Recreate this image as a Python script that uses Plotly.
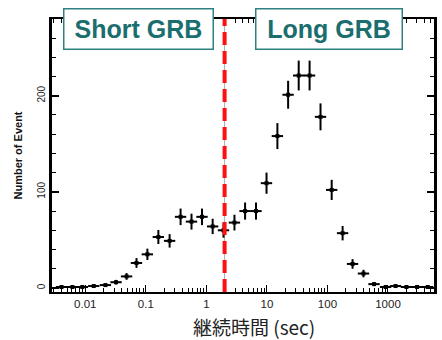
import plotly.graph_objects as go

# GRB duration distribution
durations = [0.00405, 0.00612, 0.00893, 0.0138, 0.0215, 0.0322, 0.0481, 0.0701,
             0.106, 0.161, 0.247, 0.375, 0.568, 0.847, 1.27, 1.92, 2.91, 4.36,
             6.60, 9.85, 14.9, 22.4, 33.5, 50.7, 76.8, 117.5, 178, 260, 394,
             589, 914, 1334, 2018, 3022, 4529]
counts = [1, 1, 1, 2, 3, 6, 12, 26, 35, 53, 49, 74, 69, 74, 64, 60, 68, 80,
          80, 109, 158, 201, 221, 221, 178, 102, 57, 25, 15, 4, 1, 2, 1, 1, 1]
count_err = [1, 1, 1, 1.4, 1.7, 2.4, 3.5, 5.1, 5.9, 7.3, 7, 8.6, 8.3, 8.6, 8,
             7.7, 8.2, 8.9, 8.9, 11, 13.5, 14.5, 15.5, 15.5, 14, 10.5, 7.5, 5,
             3.9, 2, 1, 1.4, 1, 1, 1]

x_ticks = [0.01, 0.1, 1, 10, 100, 1000]
x_tick_labels = ["0.01", "0.1", "1", "10", "100", "1000"]
threshold = 2  # seconds, Short / Long boundary

fig = go.Figure()
fig.add_trace(go.Scatter(
    x=durations, y=counts, mode="markers",
    marker=dict(symbol="square", size=4, color="black"),
    error_y=dict(type="data", array=count_err, color="black", thickness=2, width=0),
    error_x=dict(type="percent", symmetric=False, value=24, valueminus=19.5,
                 color="black", thickness=2, width=0),
    showlegend=False,
))

# thin grey guide + red dashed boundary line
fig.add_shape(type="line", xref="x", yref="paper", x0=threshold, x1=threshold,
              y0=0, y1=1, line=dict(color="#aaaaaa", width=1), layer="below")
fig.add_shape(type="line", xref="x", yref="paper", x0=threshold, x1=threshold,
              y0=0, y1=1, line=dict(color="#ff1010", width=4, dash="13px,6px"))

box_style = dict(xref="paper", yref="paper", showarrow=False,
                 font=dict(family="Liberation Sans, Arial", size=25, color="#1b6e6e"),
                 bgcolor="white", bordercolor="#2f8080", borderwidth=1.5,
                 borderpad=1, height=37, xanchor="center", yanchor="middle")
fig.add_annotation(text="<b>Short GRB</b>", x=0.226, y=0.965, width=146, **box_style)
fig.add_annotation(text="<b>Long GRB</b>", x=0.726, y=0.965, width=143, **box_style)

fig.add_annotation(text="継続時間 (sec)", xref="paper", yref="paper", x=0.53, y=-0.128,
                   showarrow=False, xanchor="center", yanchor="middle",
                   font=dict(family="Noto Sans CJK JP", size=19, color="#222222"))

fig.update_xaxes(
    type="log", range=[-2.55, 3.76],
    tickvals=x_ticks, ticktext=x_tick_labels,
    ticks="inside", ticklen=7, tickwidth=1, tickcolor="black",
    minor=dict(ticks="inside", ticklen=4, tickwidth=1, tickcolor="black", dtick="D1"),
    showline=True, linewidth=2, linecolor="black", mirror="ticks",
    showgrid=False, zeroline=False,
    tickfont=dict(family="Liberation Sans, Arial", size=11.5, color="#222222"),
)
fig.update_yaxes(
    range=[-4.2, 279.8], tick0=0, dtick=100, tickangle=-90,
    ticks="inside", ticklen=7, tickwidth=1.5, tickcolor="black",
    minor=dict(ticks="inside", ticklen=4, tickwidth=1, tickcolor="black", dtick=20),
    showline=True, linewidth=2.5, linecolor="black", mirror="ticks",
    showgrid=False, zeroline=False,
    tickfont=dict(family="Liberation Sans, Arial", size=10, color="#222222"),
    title=dict(text="<b>Number of Event</b>", standoff=12,
               font=dict(family="Liberation Sans, Arial", size=11, color="#111111")),
)
fig.update_layout(
    width=442, height=340,
    margin=dict(l=52, r=5, t=19, b=48),
    paper_bgcolor="white", plot_bgcolor="white",
)
fig.write_html("out.html", config={"displayModeBar": False},
               post_script="document.body.style.margin='0';")
